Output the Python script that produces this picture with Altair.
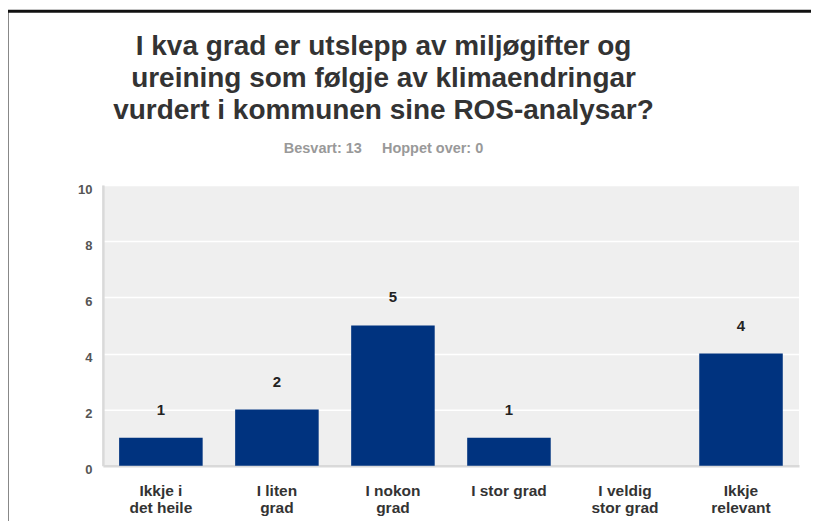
import altair as alt
import pandas as pd

categories = ["Ikkje i\ndet heile", "I liten\ngrad", "I nokon\ngrad", "I stor grad",
              "I veldig\nstor grad", "Ikkje\nrelevant"]
counts = [1, 2, 5, 1, 0, 4]
y_ticks = list(range(0, 11))
title_lines = ["I kva grad er utslepp av miljøgifter og",
               "ureining som følgje av klimaendringar",
               "vurdert i kommunen sine ROS-analysar?"]
subtitle = "Besvart: 13\u00a0\u00a0\u00a0\u00a0\u00a0Hoppet over: 0"

df = pd.DataFrame({"cat": categories, "n": counts})
df["lbl"] = df["n"].astype(str)
df_lbl = df[df["n"] > 0]
df_title = pd.DataFrame({"t": ["\n".join(title_lines)], "s": [subtitle]})

FONT = "Liberation Sans"
W, H = 697, 281

x_enc = alt.X("cat:N", sort=categories, title=None,
              scale=alt.Scale(paddingInner=0.28, paddingOuter=0.14),
              axis=alt.Axis(labelAngle=0, labelAlign="center", labelFont=FONT,
                            labelFontSize=15.5, labelFontWeight="bold", labelColor="#333333",
                            labelPadding=18, labelLineHeight=17, labelBaseline="top",
                            ticks=False, domain=True, domainColor="#d9d9d9", domainWidth=2.5,
                            grid=False, labelExpr="split(datum.label, '\\n')"))
y_enc = alt.Y("n:Q", title=None,
              scale=alt.Scale(domain=[0, 10], nice=False),
              axis=alt.Axis(values=y_ticks, ticks=False, labelFont=FONT, labelFontSize=13,
                            labelFontWeight="bold", labelColor="#555555", labelPadding=11,
                            labelExpr="datum.value % 2 == 0 ? datum.label : ''",
                            labelBaseline="middle", labelOffset=4,
                            domain=True, domainColor="#d9d9d9", domainWidth=2.5,
                            grid=True, gridColor="#ffffff", gridWidth=1.5))

bars = alt.Chart(df).mark_bar(color="#00337f").encode(x=x_enc, y=y_enc)
labels = alt.Chart(df_lbl).mark_text(font=FONT, fontSize=15, fontWeight="bold",
                                     color="#222222", dy=-28, baseline="middle").encode(
    x=alt.X("cat:N", sort=categories), y=alt.Y("n:Q"), text="lbl:N")

title_mark = alt.Chart(df_title).mark_text(
    font=FONT, fontSize=28, fontWeight="bold", color="#333333", lineBreak="\n",
    lineHeight=32, align="center", baseline="alphabetic").encode(
    x=alt.value(281), y=alt.value(-130), text="t:N")
subtitle_mark = alt.Chart(df_title).mark_text(
    font=FONT, fontSize=14.5, fontWeight="bold", color="#999999",
    align="center", baseline="alphabetic").encode(
    x=alt.value(281), y=alt.value(-32), text="s:N")

frame_top = alt.Chart(df_title).mark_rule(color="#111111", strokeWidth=3).encode(
    x=alt.value(-96), x2=alt.value(W + 30), y=alt.value(-174))
frame_left = alt.Chart(df_title).mark_rule(color="#111111", strokeWidth=3).encode(
    x=alt.value(-96), y=alt.value(-174), y2=alt.value(H + 60))

chart = alt.layer(bars, labels, title_mark, subtitle_mark, frame_top, frame_left).properties(
    width=W, height=H,
    autosize=alt.AutoSizeParams(type="none"),
    padding={"left": 95, "top": 177, "right": 12, "bottom": 55},
    background="white",
).configure_view(fill="#efefef", stroke=None)

chart.save("out.html", embed_options={"renderer": "svg", "actions": False})
